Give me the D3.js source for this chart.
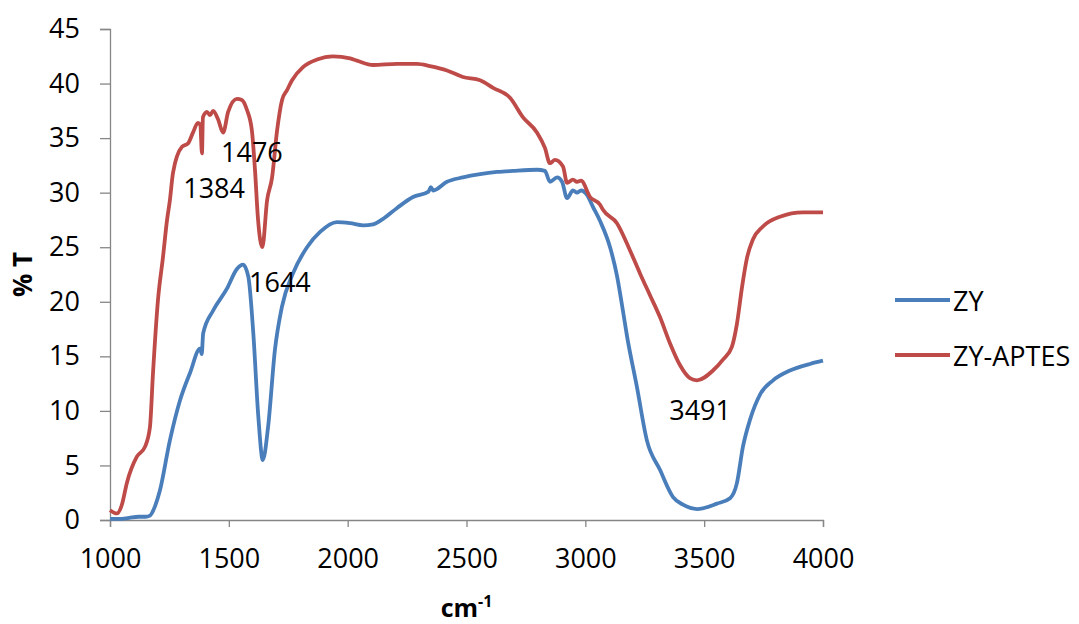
<!DOCTYPE html>
<html>
<head>
<meta charset="utf-8">
<script src="https://cdn.jsdelivr.net/npm/d3@7"></script>
<style>
  body { margin: 0; background: #fff; }
  svg text { font-family: "Open Sans", "Noto Sans", sans-serif; fill: #000; }
</style>
</head>
<body>
<div id="chart"></div>
<script>
// wavenumber (cm-1) / %T pairs
const zyWave = [1000, 1040, 1080, 1120, 1150, 1168, 1190, 1210, 1252, 1295, 1337, 1379, 1386, 1392, 1434,
  1492, 1534, 1560, 1582, 1603, 1624, 1643, 1665, 1694, 1723, 1770, 1829, 1884, 1955, 2010, 2065, 2107,
  2149, 2208, 2275, 2340, 2350, 2360, 2418, 2485, 2557, 2628, 2696, 2797, 2830, 2851, 2881, 2902, 2923,
  2948, 2965, 2982, 3007, 3032, 3062, 3104, 3133, 3158, 3175, 3217, 3259, 3314, 3369, 3411, 3470, 3554,
  3609, 3638, 3663, 3693, 3735, 3790, 3861, 3945, 4000];
const zyT = [0.1, 0.1, 0.2, 0.3, 0.3, 0.4, 1.3, 2.7, 7.3, 11, 13.5, 15.7, 15.2, 17.1, 19.2,
  21.2, 23.0, 23.4, 22.3, 17.1, 9.5, 5.5, 8.5, 15.6, 19.5, 22.6, 25, 26.4, 27.3, 27.2, 27.0, 27.1,
  27.6, 28.6, 29.6, 30.1, 30.5, 30.2, 31.0, 31.4, 31.7, 31.9, 32.0, 32.1, 32.0, 31.0, 31.4, 31.0, 29.5,
  30.2, 30.0, 30.2, 29.8, 28.7, 27.4, 25.0, 22.4, 19.2, 16.9, 12.2, 7.3, 4.6, 2.1, 1.4, 1.0, 1.5,
  2.0, 3.4, 6.7, 9.2, 11.5, 12.8, 13.7, 14.3, 14.6];

const aptesWave = [1000, 1029, 1050, 1071, 1113, 1147, 1168, 1181, 1202, 1223, 1240, 1252, 1265, 1303, 1328,
  1349, 1370, 1380, 1387, 1391, 1408, 1421, 1434, 1455, 1476, 1497, 1534, 1555, 1576, 1597, 1610, 1623,
  1641, 1661, 1682, 1703, 1724, 1745, 1766, 1812, 1871, 1938, 2010, 2039, 2107, 2208, 2292, 2346, 2418,
  2485, 2557, 2612, 2683, 2738, 2797, 2830, 2851, 2872, 2906, 2923, 2948, 2965, 2982, 3020, 3062, 3075,
  3133, 3188, 3230, 3272, 3314, 3356, 3398, 3440, 3470, 3537, 3579, 3617, 3638, 3659, 3680, 3705, 3747,
  3819, 3916, 4000];
const aptesT = [0.9, 0.6, 1.4, 3.4, 5.8, 6.7, 8.5, 13.5, 20.2, 24.1, 27.5, 29.3, 31.8, 34.2, 34.5,
  35.5, 36.4, 36.2, 33.6, 36.9, 37.4, 37.1, 37.5, 36.7, 35.5, 37.4, 38.6, 38.5, 37.6, 35.7, 32.1, 27.5,
  25.0, 29.3, 31.4, 35.7, 38.5, 39.4, 40.3, 41.5, 42.2, 42.5, 42.3, 42.1, 41.7, 41.8, 41.8, 41.6, 41.2,
  40.6, 40.3, 39.6, 38.7, 36.9, 35.5, 34.1, 32.7, 33.0, 32.4, 30.9, 31.2, 31.0, 31.1, 29.6, 28.9, 28.4,
  27.2, 24.7, 22.6, 20.6, 18.6, 16.2, 14.2, 13.0, 12.8, 13.7, 14.7, 15.9, 18.0, 21.3, 24.0, 25.7, 26.9,
  27.8, 28.2, 28.2];

const seriesNames = ['ZY', 'ZY-APTES'];
const seriesColors = ['#4A7EBB', '#BE4B48'];
const xTicks = [1000, 1500, 2000, 2500, 3000, 3500, 4000];
const yTicks = [0, 5, 10, 15, 20, 25, 30, 35, 40, 45];
const peakLabels = [
  { text: '1384', wave: 1438, t: 30.5 },
  { text: '1476', wave: 1597, t: 33.8 },
  { text: '1644', wave: 1715, t: 21.9 },
  { text: '3491', wave: 3483, t: 10.1 }
];

const width = 1079, height = 624;
const margin = { top: 29, right: 256, bottom: 104, left: 110 };

const svg = d3.select('#chart')
  .append('svg')
  .attr('width', width)
  .attr('height', height)
  ;

const x = d3.scaleLinear().domain([1000, 4000]).range([margin.left, width - margin.right]);
const y = d3.scaleLinear().domain([0, 45]).range([height - margin.bottom, margin.top]);

const axisColor = '#868686';
const labelSize = '27px';

// y axis
const yAxis = svg.append('g')
  .attr('transform', `translate(${margin.left},0)`)
  .call(d3.axisLeft(y).tickValues(yTicks).tickSize(10).tickPadding(20));
yAxis.select('.domain').attr('stroke', axisColor).attr('stroke-width', 1.3);
yAxis.selectAll('.tick line').attr('stroke', axisColor).attr('stroke-width', 1.3);
yAxis.selectAll('.tick text').style('font-size', labelSize).attr('fill', '#000');

// x axis
const xAxis = svg.append('g')
  .attr('transform', `translate(0,${y(0)})`)
  .call(d3.axisBottom(x).tickValues(xTicks).tickSize(7).tickPadding(22).tickFormat(d3.format('d')));
xAxis.select('.domain').attr('stroke', axisColor).attr('stroke-width', 1.3);
xAxis.selectAll('.tick line').attr('stroke', axisColor).attr('stroke-width', 1.3);
xAxis.selectAll('.tick text').style('font-size', labelSize).attr('fill', '#000');

const line = d3.line()
  .x(d => x(d[0]))
  .y(d => y(d[1]))
  .curve(d3.curveMonotoneX)
  ;

const series = [
  d3.zip(zyWave, zyT),
  d3.zip(aptesWave, aptesT)
];

series.forEach((pts, i) => {
  svg.append('path')
    .datum(pts)
    .attr('fill', 'none')
    .attr('stroke', seriesColors[i])
    .attr('stroke-width', 3.8)
    .attr('stroke-linejoin', 'round')
    .attr('d', line);
});

// peak annotations
svg.selectAll('.peak')
  .data(peakLabels)
  .enter()
  .append('text')
  .attr('class', 'peak')
  .attr('x', d => x(d.wave))
  .attr('y', d => y(d.t))
  .attr('text-anchor', 'middle')
  .attr('dominant-baseline', 'central')
  .style('font-size', labelSize)
  .text(d => d.text);

// axis titles
svg.append('text')
  .attr('transform', `translate(22,${(y(0) + y(45)) / 2}) rotate(-90)`)
  .attr('text-anchor', 'middle')
  .attr('dominant-baseline', 'central')
  .style('font-size', '26px')
  .style('font-weight', 'bold')
  .text('% T');

const xTitle = svg.append('text')
  .attr('x', (x(1000) + x(4000)) / 2)
  .attr('y', 617)
  .attr('text-anchor', 'middle')
  .style('font-size', '25px')
  .style('font-weight', 'bold');
xTitle.append('tspan').text('cm');
xTitle.append('tspan').attr('dy', -10).style('font-size', '16px').text('-1');

// legend
const legend = svg.append('g').attr('transform', 'translate(895,300)');
seriesNames.forEach((name, i) => {
  const g = legend.append('g').attr('transform', `translate(0,${i * 55})`);
  g.append('line')
    .attr('x1', 0).attr('x2', 55)
    .attr('stroke', seriesColors[i])
    .attr('stroke-width', 3.8);
  g.append('text')
    .attr('x', 58)
    .attr('dominant-baseline', 'central')
    .style('font-size', labelSize)
    .text(name);
});
</script>
</body>
</html>
